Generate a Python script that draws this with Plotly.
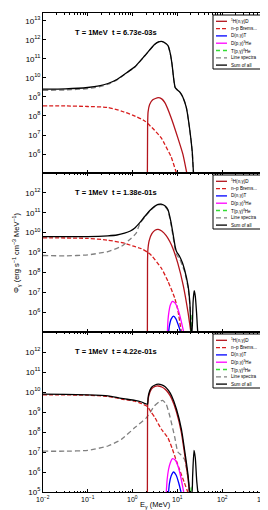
import numpy as np
import plotly.graph_objects as go

# ---------------- data (log10 E [MeV], log10 Phi) ----------------
# Panel 1 : t = 6.73e-03 s
P1_H_X = [0.33, 0.335, 0.345, 0.38, 0.45, 0.57, 0.65, 0.72, 0.86, 1.01, 1.125, 1.21, 1.22]
P1_H_Y = [4.9, 7.5, 8.2, 8.6, 8.85, 8.97, 8.9, 8.70, 7.91, 6.85, 5.97, 5.0, 4.9]
P1_B_X = [-2, -1.5, -1, -0.55, -0.25, 0.0, 0.27, 0.49, 0.64, 0.72, 0.86, 0.98, 1.0]
P1_B_Y = [8.53, 8.53, 8.5, 8.45, 8.26, 8.05, 7.74, 7.25, 6.85, 6.5, 5.85, 5.0, 4.9]
P1_L_X = [-2, -1.5, -1, -0.75, -0.55, -0.35, -0.18, 0.05, 0.27, 0.49, 0.58, 0.64, 0.7, 0.79,
          0.84, 0.88, 0.92, 0.95, 1.0, 1.06, 1.12, 1.2, 1.27, 1.33, 1.36, 1.37]
P1_L_Y = [9.35, 9.37, 9.44, 9.53, 9.67, 9.9, 10.18, 10.57, 11.16, 11.76, 11.9, 11.93, 11.88, 11.70,
          11.3, 10.73, 9.9, 9.5, 9.36, 9.23, 9.0, 8.44, 7.38, 6.15, 5.0, 4.9]
P1_S_X = [-2, -1.5, -1, -0.75, -0.55, -0.35, -0.18, 0.05, 0.27, 0.49, 0.58, 0.64, 0.7, 0.79,
          0.84, 0.88, 0.92, 0.95, 1.0, 1.06, 1.12, 1.2, 1.27, 1.33, 1.36, 1.37]
P1_S_Y = [9.41, 9.43, 9.5, 9.58, 9.71, 9.92, 10.2, 10.59, 11.17, 11.76, 11.9, 11.93, 11.88, 11.70,
          11.3, 10.73, 9.9, 9.5, 9.37, 9.24, 9.0, 8.44, 7.38, 6.15, 5.0, 4.9]

# Panel 2 : t = 1.38e-01 s
P2_H_X = [0.33, 0.333, 0.34, 0.37, 0.43, 0.5, 0.57, 0.65, 0.75, 0.83, 0.90, 1.01, 1.13, 1.24, 1.30, 1.31]
P2_H_Y = [4.9, 8.5, 9.1, 9.6, 9.95, 10.12, 10.16, 10.08, 9.85, 9.55, 9.2, 8.45, 7.35, 5.95, 5.0, 4.9]
P2_B_X = [-2, -1, -0.55, -0.18, 0.0, 0.19, 0.33, 0.42, 0.64, 0.79, 0.94, 1.01, 1.09, 1.11]
P2_B_Y = [9.74, 9.71, 9.62, 9.47, 9.33, 9.2, 9.02, 8.85, 8.22, 7.55, 6.71, 6.1, 5.0, 4.9]
P2_DN_X = [0.80, 0.82, 0.86, 0.915, 0.97, 1.02, 1.07, 1.08]
P2_DN_Y = [4.9, 5.3, 5.65, 5.8, 5.65, 5.35, 5.0, 4.9]
P2_DP_X = [0.775, 0.79, 0.81, 0.84, 0.89, 0.95, 1.02, 1.08, 1.14, 1.15]
P2_DP_Y = [4.9, 5.6, 6.0, 6.35, 6.54, 6.45, 6.1, 5.6, 5.0, 4.9]
P2_TP_X = [1.297, 1.30, 1.305]
P2_TP_Y = [4.9, 5.9, 4.9]
P2_L_X = [-2, -1.5, -1, -0.55, -0.25, -0.03, 0.08, 0.16, 0.27, 0.38, 0.49, 0.57, 0.64, 0.72,
          0.79, 0.85, 0.90, 0.95, 0.98, 1.05, 1.11, 1.16, 1.24, 1.30, 1.32]
P2_L_Y = [8.85, 8.83, 8.88, 9.05, 9.31, 9.72, 9.97, 10.45, 10.78, 11.08, 11.3, 11.4, 11.41, 11.32,
          11.1, 10.5, 9.85, 9.15, 8.9, 8.68, 8.35, 8.05, 7.2, 5.8, 4.9]
P2_S_X = [-2, -1, -0.55, -0.35, -0.18, -0.05, 0.05, 0.16, 0.27, 0.38, 0.49, 0.57, 0.64, 0.72,
          0.79, 0.85, 0.90, 0.95, 0.98, 1.05, 1.11, 1.16, 1.24, 1.28, 1.305, 1.32,
          1.335, 1.35, 1.375, 1.40, 1.43, 1.455, 1.47]
P2_S_Y = [9.8, 9.8, 9.84, 9.88, 9.97, 10.08, 10.23, 10.5, 10.81, 11.1, 11.32, 11.42, 11.43, 11.35,
          11.15, 10.6, 9.97, 9.3, 9.05, 8.80, 8.5, 8.13, 7.3, 6.4, 5.0, 4.9,
          5.4, 6.5, 7.08, 6.8, 5.9, 5.0, 4.9]

# Panel 3 : t = 4.22e-01 s
P3_H_X = [0.33, 0.333, 0.337, 0.36, 0.42, 0.5, 0.57, 0.65, 0.72, 0.80, 0.87, 0.98, 1.09, 1.18, 1.24, 1.27, 1.28]
P3_H_Y = [4.9, 8.5, 9.35, 9.8, 10.15, 10.28, 10.3, 10.25, 10.15, 9.95, 9.68, 9.0, 7.96, 6.6, 5.62, 5.0, 4.9]
P3_B_X = [-2, -1, -0.55, -0.25, 0.05, 0.2, 0.33, 0.42, 0.49, 0.57, 0.64, 0.79, 0.88, 0.96, 1.05, 1.15, 1.23, 1.24]
P3_B_Y = [9.86, 9.84, 9.78, 9.65, 9.54, 9.42, 9.28, 8.97, 8.75, 8.42, 8.15, 7.7, 7.2, 6.67, 6.1, 5.5, 5.0, 4.9]
P3_DN_X = [0.80, 0.82, 0.86, 0.915, 0.97, 1.03, 1.08, 1.09]
P3_DN_Y = [4.9, 5.4, 5.8, 6.0, 5.85, 5.45, 5.0, 4.9]
P3_DP_X = [0.75, 0.77, 0.80, 0.84, 0.89, 0.95, 1.02, 1.08, 1.14, 1.15]
P3_DP_Y = [4.9, 5.6, 6.1, 6.45, 6.67, 6.6, 6.25, 5.7, 5.0, 4.9]
P3_TP_X = [1.30, 1.305, 1.31]
P3_TP_Y = [4.9, 5.25, 4.9]
P3_L_X = [-2, -1.5, -1, -0.55, -0.25, 0.05, 0.31, 0.49, 0.6, 0.67, 0.75, 0.83, 0.94, 1.01, 1.08, 1.16, 1.24, 1.27, 1.28]
P3_L_Y = [7.04, 7.04, 7.08, 7.3, 7.63, 8.22, 8.72, 9.31, 9.52, 9.58, 9.39, 8.8, 7.75, 7.0, 6.85, 6.62, 5.7, 5.0, 4.9]
P3_S_X = [-2, -1.5, -1, -0.55, -0.25, 0.05, 0.2, 0.33, 0.345, 0.36, 0.42, 0.5, 0.57, 0.65, 0.72,
          0.80, 0.87, 0.98, 1.09, 1.18, 1.24, 1.27, 1.28, 1.32, 1.34, 1.37, 1.40, 1.43, 1.46]
P3_S_Y = [9.89, 9.88, 9.86, 9.81, 9.68, 9.58, 9.5, 9.39, 9.7, 9.9, 10.23, 10.35, 10.39, 10.36, 10.28,
          10.08, 9.81, 9.14, 8.13, 6.79, 5.79, 5.03, 4.9, 4.9, 5.8, 7.08, 6.7, 5.6, 4.9]

TITLES = ["T = 1MeV\u00a0 t = 6.73e-03s", "T = 1MeV\u00a0 t = 1.38e-01s", "T = 1MeV\u00a0 t = 4.22e-01s"]
NAMES = ["<sup>1</sup>H(n,γ)D", "n–p Brems...", "D(n,γ)T", "D(p,γ)<sup>3</sup>He",
         "T(p,γ)<sup>4</sup>He", "Line spectra", "Sum of all"]
COLORS = ["#b3141c", "#d81e1e", "#0000ff", "#ff00ff", "#33dd33", "#808080", "#000000"]
DASHES = ["solid", "4px,2px", "solid", "solid", "4px,3px", "5px,3px", "solid"]
YTICKS = [[6, 7, 8, 9, 10, 11, 12, 13], [6, 7, 8, 9, 10, 11, 12], [5, 6, 7, 8, 9, 10, 11, 12]]
YRANGES = [[5, 13.42], [5, 13], [5, 13]]
XTICKS = [-2, -1, 0, 1, 2, 3]

PANELS = [
    [(P1_H_X, P1_H_Y), (P1_B_X, P1_B_Y), ([], []), ([], []), ([], []), (P1_L_X, P1_L_Y), (P1_S_X, P1_S_Y)],
    [(P2_H_X, P2_H_Y), (P2_B_X, P2_B_Y), (P2_DN_X, P2_DN_Y), (P2_DP_X, P2_DP_Y), (P2_TP_X, P2_TP_Y),
     (P2_L_X, P2_L_Y), (P2_S_X, P2_S_Y)],
    [(P3_H_X, P3_H_Y), (P3_B_X, P3_B_Y), (P3_DN_X, P3_DN_Y), (P3_DP_X, P3_DP_Y), (P3_TP_X, P3_TP_Y),
     (P3_L_X, P3_L_Y), (P3_S_X, P3_S_Y)],
]
DRAW_ORDER = [5, 1, 0, 2, 3, 4, 6]

# ---------------- layout geometry (pixels) ----------------
W, H = 268, 510
L, R, T, B = 35, 9, 5, 26
PANEL_TOPS = [5, 165, 324]
PANEL_BOTS = [165, 324, 484]
PW, PH = W - L - R, H - T - B

def px_x(px):
    return (px - L) / PW

def px_y(py):
    return (H - B - py) / PH

FONT = "Liberation Sans, Arial, sans-serif"

fig = go.Figure()
for i, panel in enumerate(PANELS):
    ax = "" if i == 0 else str(i + 1)
    for k in DRAW_ORDER:
        xs, ys = panel[k]
        fig.add_trace(go.Scatter(
            x=np.power(10.0, np.array(xs, dtype=float)),
            y=np.power(10.0, np.array(ys, dtype=float)),
            mode="lines", line=dict(color=COLORS[k], width=1.3, dash=DASHES[k], shape="spline", smoothing=0.5),
            xaxis="x" + ax, yaxis="y" + ax, showlegend=False, hoverinfo="skip"))

layout = dict(width=W, height=H, margin=dict(l=L, r=R, t=T, b=B), paper_bgcolor="white",
              plot_bgcolor="white", font=dict(family=FONT, size=8, color="black"), showlegend=False)
for i in range(3):
    ax = "" if i == 0 else str(i + 1)
    d0, d1 = px_y(PANEL_BOTS[i]), px_y(PANEL_TOPS[i])
    layout["xaxis" + ax] = dict(
        type="log", range=[-2, 3], domain=[0, 1], anchor="y" + ax,
        tickvals=[10.0 ** v for v in XTICKS],
        showticklabels=False, ticks="inside", ticklen=3, tickcolor="black",
        minor=dict(ticks="inside", ticklen=1.5, tickcolor="black", dtick="D1"),
        showline=True, linecolor="black", linewidth=1, mirror="ticks", showgrid=False, zeroline=False)
    layout["yaxis" + ax] = dict(
        type="log", range=YRANGES[i], domain=[d0, d1], anchor="x" + ax,
        tickvals=[10.0 ** v for v in YTICKS[i]],
        ticktext=["10<sup>%d</sup>" % v for v in YTICKS[i]],
        ticks="inside", ticklen=3, tickcolor="black",
        showline=True, linecolor="black", linewidth=1, mirror="ticks", showgrid=False, zeroline=False,
        tickfont=dict(size=8))
fig.update_layout(**layout)

annotations = []
shapes = []
# x tick labels of the bottom panel (placed on the log axis x3)
for v in XTICKS:
    last = v == XTICKS[-1]
    annotations.append(dict(text="10<sup>%s</sup>" % str(v).replace("-", "−"), x=v, xref="x3",
                            y=px_y(491), yref="paper", xanchor="right" if last else "center",
                            xshift=3 if last else 0, yanchor="middle",
                            showarrow=False, font=dict(size=7, family=FONT)))
for i in range(3):
    top = PANEL_TOPS[i]
    annotations.append(dict(text="<b>" + TITLES[i] + "</b>", x=px_x(65), y=px_y(top + 19), xref="paper",
                            yref="paper", xanchor="left", yanchor="middle", showarrow=False,
                            font=dict(size=7.5, family=FONT)))
    # legend box
    bx0, bx1, by0, by1 = 205, 258, top + 2, top + 56
    shapes.append(dict(type="rect", xref="paper", yref="paper", x0=px_x(bx0), x1=px_x(bx1),
                       y0=px_y(by1), y1=px_y(by0), line=dict(color="black", width=1), fillcolor="white",
                       layer="above"))
    for k in range(7):
        yy = by0 + 6.3 + 7.3 * k
        shapes.append(dict(type="line", xref="paper", yref="paper", x0=px_x(208), x1=px_x(219),
                           y0=px_y(yy), y1=px_y(yy), layer="above",
                           line=dict(color=COLORS[k], width=1.3, dash=DASHES[k])))
        annotations.append(dict(text=NAMES[k], x=px_x(220.5), y=px_y(yy), xref="paper", yref="paper",
                                xanchor="left", yanchor="middle", showarrow=False,
                                font=dict(size=4.6, family=FONT)))

annotations.append(dict(text="E<sub>γ</sub> (MeV)", x=0.5, y=px_y(496.5), xref="paper", yref="paper",
                        xanchor="center", yanchor="middle", showarrow=False, font=dict(size=7.5, family=FONT)))
annotations.append(dict(text="Φ<sub>γ</sub> (erg s<sup>−1</sup> cm<sup>−3</sup> MeV<sup>−1</sup>)",
                        x=px_x(8), y=px_y(245), xref="paper", yref="paper", textangle=-90,
                        xanchor="center", yanchor="middle", showarrow=False, font=dict(size=7.5, family=FONT)))
fig.update_layout(annotations=annotations, shapes=shapes)

fig.write_html("out.html")
